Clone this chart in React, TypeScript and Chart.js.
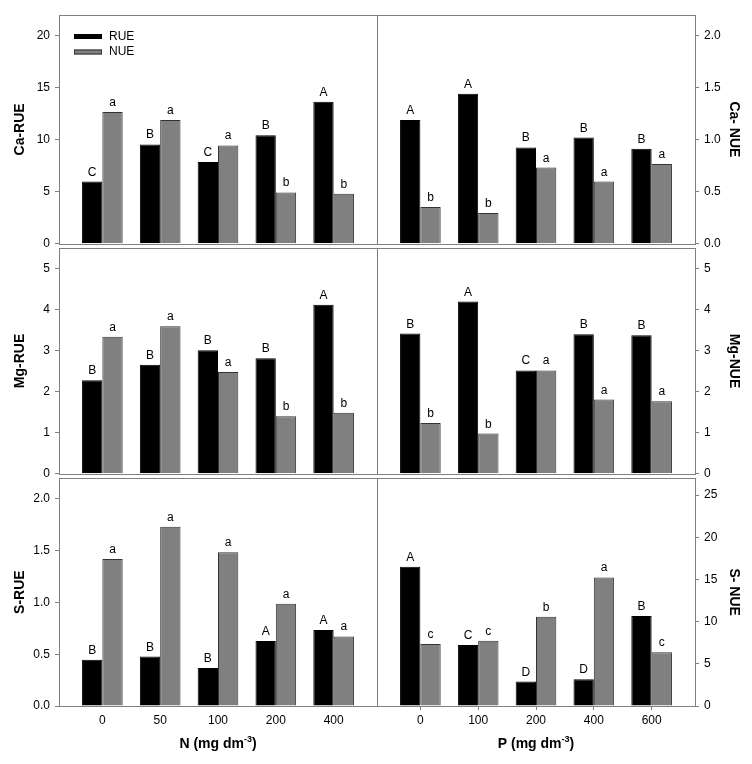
import React, { useEffect, useRef } from 'react';
import { Chart, registerables } from 'chart.js';

Chart.register(...registerables);

// ---------- data ----------
const nLevels = ['0', '50', '100', '200', '400'];
const pLevels = ['0', '100', '200', '400', '600'];

const caRueN = [5.99, 9.55, 7.86, 10.44, 13.66];
const caNueN = [12.67, 11.9, 9.46, 4.94, 4.81];
const caRueNLetters = ['C', 'B', 'C', 'B', 'A'];
const caNueNLetters = ['a', 'a', 'a', 'b', 'b'];

const caRueP = [1.19, 1.443, 0.927, 1.022, 0.914];
const caNueP = [0.354, 0.296, 0.733, 0.599, 0.767];
const caRuePLetters = ['A', 'A', 'B', 'B', 'B'];
const caNuePLetters = ['b', 'b', 'a', 'a', 'a'];

const mgRueN = [2.28, 2.66, 3.01, 2.82, 4.12];
const mgNueN = [3.34, 3.6, 2.48, 1.4, 1.49];
const mgRueNLetters = ['B', 'B', 'B', 'B', 'A'];
const mgNueNLetters = ['a', 'a', 'a', 'b', 'b'];

const mgRueP = [3.42, 4.2, 2.52, 3.4, 3.38];
const mgNueP = [1.24, 0.98, 2.52, 1.81, 1.77];
const mgRuePLetters = ['B', 'A', 'C', 'B', 'B'];
const mgNuePLetters = ['b', 'b', 'a', 'a', 'a'];

const sRueN = [0.446, 0.478, 0.366, 0.627, 0.733];
const sNueN = [1.42, 1.73, 1.484, 0.987, 0.672];
const sRueNLetters = ['B', 'B', 'B', 'A', 'A'];
const sNueNLetters = ['a', 'a', 'a', 'a', 'a'];

const sRueP = [16.5, 7.23, 2.89, 3.17, 10.67];
const sNueP = [7.35, 7.74, 10.59, 15.24, 6.37];
const sRuePLetters = ['A', 'C', 'D', 'D', 'B'];
const sNuePLetters = ['c', 'c', 'b', 'a', 'c'];

const caTicksN = [0, 5, 10, 15, 20];
const caTicksP = [0, 0.5, 1, 1.5, 2];
const mgTicks = [0, 1, 2, 3, 4, 5];
const sTicksN = [0, 0.5, 1, 1.5, 2];
const sTicksP = [0, 5, 10, 15, 20, 25];

const seriesNames = ['RUE', 'NUE'];

// ---------- styles ----------
const FONT = '"Liberation Sans", Arial, Helvetica, sans-serif';
const AXIS_GRAY = '#808080';
const BAR_BLACK = '#000000';
const BAR_GRAY = '#808080';

Chart.defaults.font.family = FONT;
Chart.defaults.font.size = 12;
Chart.defaults.color = '#000';

type PanelCfg = {
  left: number;
  top: number;
  width: number;
  height: number;
  side: 'left' | 'right';
  padTop: number;
  padBottom: number;
  yTitle: string;
  yMax: number;
  yTicks: number[];
  decimals: number;
  cats: string[];
  rue: number[];
  nue: number[];
  rueLetters: string[];
  nueLetters: string[];
  showX: boolean;
  xTitleMain?: string;
  xTickMarks?: boolean;
  legend?: boolean;
};

const framePlugin = {
  id: 'frame',
  afterDraw(chart: any) {
    const { ctx, chartArea } = chart;
    ctx.save();
    ctx.strokeStyle = AXIS_GRAY;
    ctx.lineWidth = 1;
    ctx.strokeRect(
      Math.round(chartArea.left) + 0.5,
      Math.round(chartArea.top) + 0.5,
      Math.round(chartArea.right) - Math.round(chartArea.left),
      Math.round(chartArea.bottom) - Math.round(chartArea.top)
    );
    ctx.restore();
  },
};

const lettersPlugin = {
  id: 'letters',
  afterDatasetsDraw(chart: any) {
    const { ctx } = chart;
    ctx.save();
    ctx.font = `12px ${FONT}`;
    ctx.fillStyle = '#000';
    ctx.textAlign = 'center';
    ctx.textBaseline = 'alphabetic';
    chart.data.datasets.forEach((ds: any, di: number) => {
      const meta = chart.getDatasetMeta(di);
      meta.data.forEach((el: any, i: number) => {
        const t = ds.letters?.[i];
        if (t) ctx.fillText(t, el.x, el.y - 6);
      });
    });
    ctx.restore();
  },
};

const legendPlugin = {
  id: 'panelLegend',
  afterDraw(chart: any, _args: any, opts: any) {
    if (!opts || !opts.show) return;
    const { ctx, chartArea } = chart;
    ctx.save();
    ctx.font = `12px ${FONT}`;
    ctx.textBaseline = 'middle';
    ctx.textAlign = 'left';
    chart.data.datasets.forEach((ds: any, i: number) => {
      const bx = chartArea.left + 15;
      const by = chartArea.top + 19 + i * 15.5;
      ctx.fillStyle = ds.backgroundColor;
      ctx.fillRect(bx, by, 28, 5);
      ctx.strokeStyle = ds.borderColor;
      ctx.lineWidth = 1;
      ctx.strokeRect(bx + 0.5, by + 0.5, 27, 4);
      ctx.fillStyle = '#000';
      ctx.fillText(ds.label, bx + 35, by + 2.5);
    });
    ctx.restore();
  },
};

const xTitlePlugin = {
  id: 'xTitle',
  afterDraw(chart: any, _args: any, opts: any) {
    if (!opts || !opts.text) return;
    const { ctx, chartArea } = chart;
    ctx.save();
    const mainFont = `bold 14px ${FONT}`;
    const supFont = `bold 9px ${FONT}`;
    const p1 = opts.text + ' (mg dm';
    const sup = '-3';
    const p2 = ')';
    ctx.font = mainFont;
    const w1 = ctx.measureText(p1).width;
    const w3 = ctx.measureText(p2).width;
    ctx.font = supFont;
    const w2 = ctx.measureText(sup).width;
    const total = w1 + w2 + w3;
    const cx = (chartArea.left + chartArea.right) / 2;
    const base = chartArea.bottom + 42;
    let x = cx - total / 2;
    ctx.fillStyle = '#000';
    ctx.textAlign = 'left';
    ctx.textBaseline = 'alphabetic';
    ctx.font = mainFont;
    ctx.fillText(p1, x, base);
    x += w1;
    ctx.font = supFont;
    ctx.fillText(sup, x, base - 6);
    x += w2;
    ctx.font = mainFont;
    ctx.fillText(p2, x, base);
    ctx.restore();
  },
};

function Panel({ cfg }: { cfg: PanelCfg }) {
  const ref = useRef<HTMLCanvasElement | null>(null);
  useEffect(() => {
    if (!ref.current) return;
    const isLeft = cfg.side === 'left';
    const chart = new Chart(ref.current, {
      type: 'bar',
      data: {
        datasets: [
          {
            label: seriesNames[0],
            data: cfg.rue.map((y, i) => ({ x: i, y })),
            backgroundColor: BAR_BLACK,
            borderColor: '#000000',
            borderWidth: 1,
            letters: cfg.rueLetters,
          } as any,
          {
            label: seriesNames[1],
            data: cfg.nue.map((y, i) => ({ x: i, y })),
            backgroundColor: BAR_GRAY,
            borderColor: '#333333',
            borderWidth: 1,
            letters: cfg.nueLetters,
          } as any,
        ],
      },
      options: {
        responsive: false,
        animation: false,
        devicePixelRatio: 1,
        datasets: {
          bar: { categoryPercentage: 0.703, barPercentage: 1 },
        },
        layout: {
          padding: {
            left: isLeft ? 0 : 3,
            right: isLeft ? 3 : 0,
            top: cfg.padTop,
            bottom: cfg.padBottom,
          },
        },
        scales: {
          x: {
            type: 'linear',
            display: cfg.showX,
            offset: false,
            min: -0.75,
            max: 4.75,
            afterBuildTicks: (s: any) => {
              s.ticks = cfg.cats.map((_, i) => ({ value: i }));
            },
            afterFit: (s: any) => {
              if (cfg.showX) s.height = 58;
            },
            ticks: {
              autoSkip: false,
              maxRotation: 0,
              padding: 3.5,
              font: { size: 12 },
              color: '#000',
              callback: (v: any) => cfg.cats[Math.round(Number(v))] ?? '',
            },
            grid: {
              offset: false,
              drawOnChartArea: false,
              tickLength: 4,
              color: AXIS_GRAY,
              tickColor: cfg.xTickMarks ? AXIS_GRAY : 'rgba(0,0,0,0)',
            },
            border: { display: true, color: AXIS_GRAY },
          },
          y: {
            type: 'linear',
            position: cfg.side,
            min: 0,
            max: cfg.yMax,
            afterBuildTicks: (s: any) => {
              s.ticks = cfg.yTicks.map((v) => ({ value: v }));
            },
            afterFit: (s: any) => {
              s.width = isLeft ? 59 : 57;
            },
            ticks: {
              padding: 5,
              font: { size: 12 },
              color: '#000',
              callback: (v: any) => Number(v).toFixed(cfg.decimals),
            },
            grid: {
              drawOnChartArea: false,
              tickLength: 4,
              color: AXIS_GRAY,
              tickColor: AXIS_GRAY,
            },
            border: { display: true, color: AXIS_GRAY },
            title: {
              display: true,
              text: cfg.yTitle,
              font: { size: 14, weight: 'bold' },
              color: '#000',
              padding: { top: isLeft ? 12 : 10, bottom: 0 },
            },
          },
        },
        plugins: {
          legend: { display: false },
          tooltip: { enabled: false },
          panelLegend: { show: !!cfg.legend },
          xTitle: { text: cfg.xTitleMain || '' },
        } as any,
      } as any,
      plugins: [framePlugin, lettersPlugin, legendPlugin, xTitlePlugin],
    });
    return () => chart.destroy();
  }, [cfg]);
  return (
    <canvas
      ref={ref}
      width={cfg.width}
      height={cfg.height}
      style={{
        position: 'absolute',
        left: cfg.left,
        top: cfg.top,
        width: cfg.width,
        height: cfg.height,
      }}
    />
  );
}

const LEFT_X = 0;
const LEFT_W = 380;
const RIGHT_X = 374;
const RIGHT_W = 378;

const panels: PanelCfg[] = [
  {
    left: LEFT_X, top: 0, width: LEFT_W, height: 256, side: 'left', padTop: 15, padBottom: 10,
    yTitle: 'Ca-RUE', yMax: 22, yTicks: caTicksN, decimals: 0, cats: nLevels,
    rue: caRueN, nue: caNueN, rueLetters: caRueNLetters, nueLetters: caNueNLetters,
    showX: false, legend: true,
  },
  {
    left: RIGHT_X, top: 0, width: RIGHT_W, height: 256, side: 'right', padTop: 15, padBottom: 10,
    yTitle: 'Ca- NUE', yMax: 2.2, yTicks: caTicksP, decimals: 1, cats: pLevels,
    rue: caRueP, nue: caNueP, rueLetters: caRuePLetters, nueLetters: caNuePLetters,
    showX: false,
  },
  {
    left: LEFT_X, top: 236, width: LEFT_W, height: 250, side: 'left', padTop: 10, padBottom: 10,
    yTitle: 'Mg-RUE', yMax: 5.5, yTicks: mgTicks, decimals: 0, cats: nLevels,
    rue: mgRueN, nue: mgNueN, rueLetters: mgRueNLetters, nueLetters: mgNueNLetters,
    showX: false,
  },
  {
    left: RIGHT_X, top: 236, width: RIGHT_W, height: 250, side: 'right', padTop: 10, padBottom: 10,
    yTitle: 'Mg-NUE', yMax: 5.5, yTicks: mgTicks, decimals: 0, cats: pLevels,
    rue: mgRueP, nue: mgNueP, rueLetters: mgRuePLetters, nueLetters: mgNuePLetters,
    showX: false,
  },
  {
    left: LEFT_X, top: 466, width: LEFT_W, height: 298, side: 'left', padTop: 10, padBottom: 0,
    yTitle: 'S-RUE', yMax: 2.2, yTicks: sTicksN, decimals: 1, cats: nLevels,
    rue: sRueN, nue: sNueN, rueLetters: sRueNLetters, nueLetters: sNueNLetters,
    showX: true, xTitleMain: 'N', xTickMarks: false,
  },
  {
    left: RIGHT_X, top: 466, width: RIGHT_W, height: 298, side: 'right', padTop: 10, padBottom: 0,
    yTitle: 'S- NUE', yMax: 27, yTicks: sTicksP, decimals: 0, cats: pLevels,
    rue: sRueP, nue: sNueP, rueLetters: sRuePLetters, nueLetters: sNuePLetters,
    showX: true, xTitleMain: 'P', xTickMarks: true,
  },
];

export default function App() {
  return (
    <div
      style={{
        position: 'absolute',
        left: 0,
        top: 0,
        width: 752,
        height: 764,
        background: '#fff',
        overflow: 'hidden',
      }}
    >
      {panels.map((p, i) => (
        <Panel key={i} cfg={p} />
      ))}
    </div>
  );
}
